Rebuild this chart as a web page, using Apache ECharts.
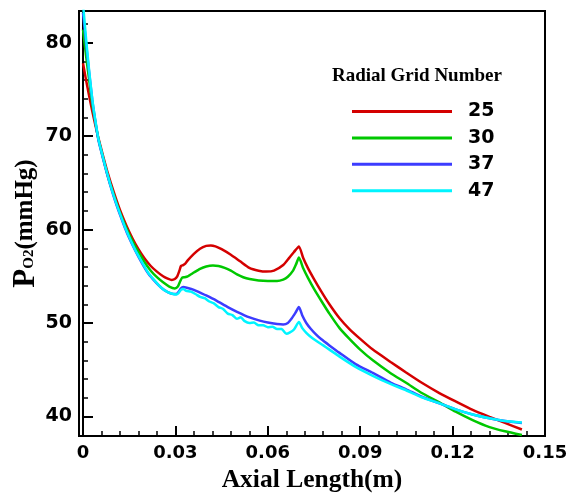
<!DOCTYPE html>
<html>
<head>
<meta charset="utf-8">
<script src="https://cdn.jsdelivr.net/npm/echarts@6/dist/echarts.min.js"></script>
<style>html,body{margin:0;padding:0;background:#fff}#c{width:568px;height:496px}</style>
</head>
<body>
<div id="c"></div>
<script>
const seriesNames = ['25', '30', '37', '47'];
const xMajor = [0, 0.03, 0.06, 0.09, 0.12, 0.15];
const xMinor = [0.006, 0.012, 0.018, 0.024, 0.036, 0.042, 0.048, 0.054, 0.066, 0.072, 0.078, 0.084, 0.096, 0.102, 0.108, 0.114, 0.126, 0.132, 0.138, 0.144];
const yMajor = [40, 50, 60, 70, 80];
const yMinor = [42, 44, 46, 48, 52, 54, 56, 58, 62, 64, 66, 68, 72, 74, 76, 78, 82];

const grid25 = [[0,77.8],[0.001,76.0],[0.002,74.3],[0.003,72.7],[0.004,71.2],[0.005,69.8],[0.0065,67.9],[0.008,66.1],[0.01,64.0],[0.012,62.1],[0.014,60.5],[0.016,59.1],[0.018,57.9],[0.02,56.9],[0.022,56.1],[0.024,55.5],[0.026,55.0],[0.0275,54.75],[0.0288,54.6],[0.0298,54.7],[0.0306,55.0],[0.0313,55.6],[0.0318,56.1],[0.0325,56.2],[0.0332,56.35],[0.034,56.7],[0.036,57.4],[0.038,57.95],[0.04,58.25],[0.0415,58.3],[0.043,58.2],[0.045,57.9],[0.048,57.3],[0.051,56.6],[0.054,55.9],[0.057,55.6],[0.0595,55.5],[0.062,55.6],[0.065,56.2],[0.067,57.0],[0.0685,57.6],[0.0701,58.2],[0.0715,56.95],[0.073,55.9],[0.075,54.7],[0.0775,53.3],[0.08,52.0],[0.0833,50.5],[0.0865,49.35],[0.09,48.3],[0.0941,47.15],[0.1,45.8],[0.1049,44.7],[0.11,43.6],[0.1157,42.5],[0.121,41.6],[0.1265,40.7],[0.132,39.95],[0.137,39.3],[0.1425,38.6]];
const grid30 = [[0,81.4],[0.001,78.6],[0.002,76.0],[0.003,73.5],[0.004,71.5],[0.005,69.7],[0.0065,67.7],[0.008,65.8],[0.01,63.7],[0.012,61.8],[0.014,60.2],[0.016,58.8],[0.018,57.6],[0.02,56.5],[0.022,55.6],[0.024,54.9],[0.026,54.35],[0.028,53.9],[0.0298,53.7],[0.0308,53.9],[0.0316,54.5],[0.0322,54.85],[0.033,54.9],[0.034,55.0],[0.036,55.4],[0.038,55.8],[0.04,56.05],[0.0422,56.15],[0.044,56.1],[0.046,55.9],[0.048,55.6],[0.05,55.2],[0.052,54.9],[0.0541,54.7],[0.057,54.55],[0.06,54.5],[0.063,54.5],[0.065,54.65],[0.0665,54.95],[0.0682,55.6],[0.0692,56.3],[0.0701,57.0],[0.0715,55.85],[0.073,54.85],[0.075,53.65],[0.0775,52.3],[0.08,51.0],[0.0833,49.45],[0.0865,48.3],[0.09,47.15],[0.0941,46.0],[0.1,44.6],[0.1049,43.6],[0.11,42.5],[0.1157,41.5],[0.121,40.5],[0.1265,39.6],[0.132,38.85],[0.137,38.4],[0.1425,38.0]];
const grid37 = [[0,83.2],[0.001,79.9],[0.002,76.8],[0.003,73.9],[0.004,71.6],[0.005,69.6],[0.0062,68.0],[0.0072,66.7],[0.0088,64.8],[0.0104,63.1],[0.012,61.6],[0.0136,60.2],[0.015,59.1],[0.0169,57.8],[0.019,56.5],[0.0212,55.3],[0.0235,54.4],[0.0255,53.75],[0.0275,53.3],[0.0293,53.1],[0.0303,53.1],[0.031,53.3],[0.0318,53.7],[0.0325,53.85],[0.034,53.75],[0.036,53.55],[0.038,53.25],[0.04,52.95],[0.0433,52.4],[0.047,51.7],[0.05,51.2],[0.0541,50.6],[0.0574,50.25],[0.06,50.05],[0.063,49.9],[0.065,49.85],[0.0665,50.0],[0.0678,50.5],[0.069,51.1],[0.0701,51.7],[0.0712,50.8],[0.0725,50.0],[0.074,49.35],[0.0757,48.75],[0.0774,48.25],[0.08,47.6],[0.0833,46.8],[0.0885,45.6],[0.0941,44.65],[0.1,43.6],[0.1049,42.9],[0.11,42.1],[0.1157,41.4],[0.121,40.75],[0.1265,40.2],[0.132,39.8],[0.137,39.5],[0.1425,39.3]];
const grid47 = [[0,84.2],[0.001,80.4],[0.002,77.0],[0.003,74.0],[0.004,71.7],[0.005,69.7],[0.0062,68.1],[0.0072,66.8],[0.0088,64.9],[0.0104,63.2],[0.012,61.7],[0.0136,60.3],[0.015,59.2],[0.0169,57.85],[0.019,56.6],[0.0212,55.35],[0.0235,54.45],[0.0255,53.75],[0.0275,53.3],[0.0293,53.1],[0.0303,53.05],[0.031,53.2],[0.0318,53.55],[0.0325,53.65],[0.0335,53.45],[0.035,53.35],[0.0365,53.1],[0.038,52.8],[0.0395,52.65],[0.041,52.3],[0.0425,52.1],[0.044,51.7],[0.0455,51.5],[0.047,51.0],[0.0485,50.85],[0.05,50.45],[0.0512,50.6],[0.0525,50.2],[0.054,50.0],[0.0555,50.05],[0.057,49.75],[0.0585,49.75],[0.06,49.55],[0.0615,49.6],[0.063,49.35],[0.0645,49.35],[0.066,48.85],[0.0672,49.0],[0.0685,49.3],[0.0701,50.1],[0.0712,49.45],[0.0725,48.95],[0.074,48.5],[0.0757,48.1],[0.078,47.6],[0.08,47.15],[0.0833,46.4],[0.0885,45.3],[0.0941,44.35],[0.1,43.45],[0.1049,42.8],[0.11,42.05],[0.1157,41.4],[0.121,40.75],[0.1265,40.2],[0.132,39.8],[0.137,39.5],[0.1425,39.35]];

const seriesData = [grid25, grid30, grid37, grid47];
const seriesColors = ['#d40000', '#00c800', '#3c3cff', '#00f4ff'];

const chart = echarts.init(document.getElementById('c'), null, {renderer: 'canvas'});
const numFont = 'DejaVu Sans';
const serif = 'Liberation Serif';
const xMin = -0.0013, xMax = 0.15, yMin = 37.9, yMax = 83.4;

chart.setOption({
  animation: false,
  backgroundColor: '#fff',
  title: {
    text: 'Radial Grid Number',
    left: 327, top: 62,
    textStyle: {fontFamily: serif, fontWeight: 'bold', fontSize: 19, color: '#000'}
  },
  legend: {
    orient: 'vertical',
    left: 347, top: 97,
    icon: 'rect',
    itemWidth: 100, itemHeight: 3, itemGap: 7.4,
    data: seriesNames,
    textStyle: {fontFamily: numFont, fontWeight: 'bold', fontSize: 19, color: '#000', lineHeight: 16, padding: [0, 0, 0, 11]}
  },
  grid: {
    left: 79, right: 23, top: 11, bottom: 60,
    show: true, borderColor: '#000', borderWidth: 2,
    outerBoundsMode: 'none', containLabel: false
  },
  xAxis: [{
    type: 'value', min: xMin, max: xMax, position: 'bottom',
    name: 'Axial Length(m)', nameLocation: 'middle', nameGap: 31, nameMoveOverlap: false,
    nameTextStyle: {fontFamily: serif, fontWeight: 'bold', fontSize: 25.5, color: '#000'},
    axisLine: {show: true, lineStyle: {color: '#000', width: 2}},
    axisTick: {show: true, inside: true, length: 10, customValues: xMajor, lineStyle: {color: '#000', width: 2}},
    axisLabel: {show: true, customValues: xMajor, margin: 8, color: '#000', fontFamily: numFont, fontWeight: 'bold', fontSize: 18,
      formatter: v => (Math.abs(v) < 1e-9 ? '0' : (+v).toFixed(2))},
    splitLine: {show: false}
  }, {
    type: 'value', min: xMin, max: xMax, position: 'bottom',
    axisLine: {show: false},
    axisTick: {show: true, inside: true, length: 5, customValues: xMinor, lineStyle: {color: '#000', width: 1.5}},
    axisLabel: {show: false},
    splitLine: {show: false}
  }],
  yAxis: [{
    type: 'value', min: yMin, max: yMax, position: 'left',
    name: '{p|P}{s|O2}{n|(mmHg)}', nameLocation: 'middle', nameGap: 38, nameRotate: 90, nameMoveOverlap: false,
    nameTextStyle: {
      color: '#000',
      rich: {
        p: {fontFamily: serif, fontWeight: 'bold', fontSize: 31, color: '#000'},
        s: {fontFamily: serif, fontWeight: 'bold', fontSize: 15, color: '#000', verticalAlign: 'bottom', padding: [0, 0, 4, 0]},
        n: {fontFamily: serif, fontWeight: 'bold', fontSize: 25, color: '#000'}
      }
    },
    axisLine: {show: true, lineStyle: {color: '#000', width: 2}},
    axisTick: {show: true, inside: true, length: 10, customValues: yMajor, lineStyle: {color: '#000', width: 2}},
    axisLabel: {show: true, customValues: yMajor, margin: 7, color: '#000', fontFamily: numFont, fontWeight: 'bold', fontSize: 19},
    splitLine: {show: false}
  }, {
    type: 'value', min: yMin, max: yMax, position: 'left',
    axisLine: {show: false},
    axisTick: {show: true, inside: true, length: 5, customValues: yMinor, lineStyle: {color: '#000', width: 1.5}},
    axisLabel: {show: false},
    splitLine: {show: false}
  }],
  series: seriesNames.map((n, i) => ({
    name: n, type: 'line', data: seriesData[i],
    xAxisIndex: 0, yAxisIndex: 0,
    showSymbol: false, symbol: 'none', smooth: 0.2, clip: true,
    lineStyle: {color: seriesColors[i], width: 2.5},
    itemStyle: {color: seriesColors[i]}
  }))
});
</script>
</body>
</html>
